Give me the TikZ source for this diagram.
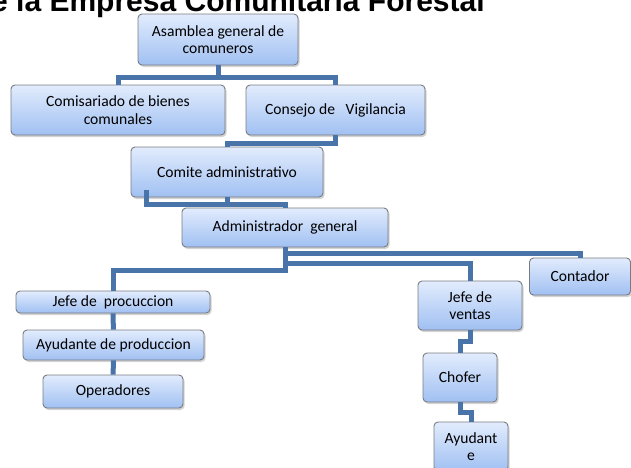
\documentclass[tikz,border=0pt]{standalone}
\usepackage{fontspec}
\setmainfont{Carlito}
\newfontfamily\titlefont{Liberation Sans}
\usetikzlibrary{shadows,calc}
\definecolor{linkblue}{RGB}{72,116,170}
\definecolor{boxgray}{RGB}{120,124,130}
\definecolor{boxtop}{RGB}{226,236,253}
\definecolor{boxbot}{RGB}{160,192,242}

\begin{document}
\begin{tikzpicture}[x=1pt, y=-1pt,
  box/.style={draw=boxgray, line width=0.9pt, rounded corners=4pt,
    top color=boxtop, bottom color=boxbot, align=center, inner sep=2pt,
    font=\fontsize{15.6}{17.5}\selectfont,
    drop shadow={shadow xshift=1.5pt, shadow yshift=-2pt, opacity=0.35}},
  link/.style={draw=linkblue, line width=5pt}]
\clip (0,0) rectangle (631,467);
\useasboundingbox (0,0) rectangle (631,467);

\node[anchor=base west, inner sep=0pt, font=\titlefont\bfseries\fontsize{30}{30}\selectfont]
  (title) at (-9,11) {e la Empresa Comunitaria Forestal};

% upper levels
\node[box, minimum width=160pt, minimum height=51pt] (asamblea) at (218,39.5)
  {Asamblea general de\\comuneros};
\node[box, minimum width=214pt, minimum height=50pt] (comisariado) at (118,110)
  {Comisariado de bienes\\comunales};
\node[box, minimum width=179pt, minimum height=50pt] (consejo) at (335.5,110)
  {Consejo de\ \ \ Vigilancia};
\node[box, minimum width=192pt, minimum height=50pt] (comite) at (227,172)
  {Comite administrativo};
\node[box, minimum width=206pt, minimum height=39pt] (admin) at (285,227.5)
  {Administrador\ \ general};

% production branch
\node[box, minimum width=194pt, minimum height=22pt] (jefeprod) at (113,302)
  {Jefe de\ \ procuccion};
\node[box, minimum width=181pt, minimum height=30pt] (ayudprod) at (113.5,345)
  {Ayudante de produccion};
\node[box, minimum width=140pt, minimum height=33pt] (operadores) at (113,391.5)
  {Operadores};

% sales branch
\node[box, minimum width=104pt, minimum height=49pt] (jefeventas) at (470,305.5)
  {Jefe de\\ventas};
\node[box, minimum width=74pt, minimum height=49pt] (chofer) at (460,377.5)
  {Chofer};
\node[box, minimum width=74pt, minimum height=49pt] (ayudante) at (471,446.5)
  {Ayudant\\e};
\node[box, minimum width=101pt, minimum height=37pt] (contador) at (580,276.5)
  {Contador};

\coordinate (stub) at (146,190);
\coordinate (bus) at ([yshift=3pt]admin.north);

\draw[link] (asamblea.south) -- ++(0,12) -| (comisariado.north);
\draw[link] (asamblea.south) -- ++(0,12) -| (consejo.north);
\draw[link] (consejo.south) -- ++(0,8) -| (comite.north);
\draw[link] (comite.south) -- (comite.south |- bus);
\draw[link] (stub) |- (bus) -- (admin.north);
\draw[link] (admin.south) -- ++(0,6) -| (contador.north);
\draw[link] (admin.south) -- ++(0,16) -| (jefeventas.north);
\draw[link] (admin.south) -- ++(0,23) -| (jefeprod.north);
\draw[link] (jefeprod) -- (ayudprod);
\draw[link] (ayudprod) -- (operadores);
\draw[link] (jefeventas.south) |- ($(jefeventas.south)!.5!(chofer.north)$) -| (chofer.north);
\draw[link] (chofer.south) |- ($(chofer.south)!.5!(ayudante.north)$) -| (ayudante.north);
\end{tikzpicture}
\end{document}
